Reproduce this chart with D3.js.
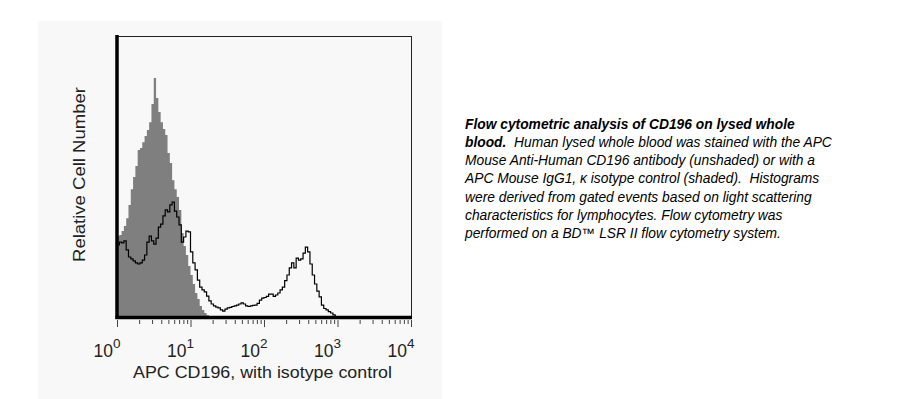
<!DOCTYPE html>
<html>
<head>
<meta charset="utf-8">
<script src="https://cdn.jsdelivr.net/npm/d3@7"></script>
<style>
  body { margin: 0; background: #fff; }
  svg { display: block; font-family: "Liberation Sans", Arial, sans-serif; }
  text { white-space: pre; }
</style>
</head>
<body>
<div id="chart"></div>
<script>
// histogram channels: 32 per decade, starting at 10^0
const channelsPerDecade = 32;

// isotype control (shaded), relative cell number per channel
const isotypeCounts = [
  28.9, 29.3, 30.7, 32.5, 35.3, 40.0, 45.6, 49.9, 53.8, 59.5,
  60.2, 62.3, 64.5, 66.6, 69.4, 75.8, 85.1, 78.0, 73.0, 69.4,
  67.0, 64.8, 58.4, 54.9, 48.8, 45.6, 42.8, 38.2, 30.0, 25.4,
  22.2, 18.3, 15.1, 11.9, 8.7, 6.6, 4.1, 2.7, 1.6, 0.9,
  0.5, 0.4, 0
];

// APC CD196 stained (unshaded)
const cd196Counts = [
  25.8, 26.8, 26.5, 27.2, 24.0, 21.5, 20.8, 20.1, 19.4, 19.0,
  19.4, 20.4, 22.2, 26.8, 28.9, 27.2, 26.1, 28.2, 32.1, 33.2,
  36.1, 38.2, 37.5, 40.0, 41.0, 37.8, 35.7, 32.9, 26.8, 28.6,
  30.7, 30.4, 23.3, 19.4, 16.9, 13.3, 10.8, 9.8, 9.1, 7.6,
  5.9, 4.8, 4.1, 3.7, 3.4, 2.7, 2.3, 3.0, 3.4, 3.6,
  3.9, 4.1, 4.4, 4.8, 5.2, 4.8, 4.1, 3.9, 4.1, 4.3,
  4.4, 5.0, 6.2, 6.9, 7.1, 7.5, 8.3, 8.3, 7.5, 8.0,
  8.7, 9.8, 10.8, 13.1, 15.1, 17.6, 19.4, 17.6, 21.1, 20.4,
  20.8, 22.9, 25.0, 23.3, 19.0, 15.1, 11.9, 9.4, 7.3, 4.4,
  3.2, 2.7, 2.1, 1.6, 0.9, 0
];

const decades = [1, 10, 100, 1000, 10000];
const decadeExponents = ["0", "1", "2", "3", "4"];

const xTitle = "APC CD196, with isotype control";
const yTitle = "Relative Cell Number";

const captionLines = [
  [{t: "Flow cytometric analysis of CD196 on lysed whole", b: true}],
  [{t: "blood.", b: true}, {t: "  Human lysed whole blood was stained with the APC", b: false}],
  [{t: "Mouse Anti-Human CD196 antibody (unshaded) or with a", b: false}],
  [{t: "APC Mouse IgG1, \u03ba isotype control (shaded).  Histograms", b: false}],
  [{t: "were derived from gated events based on light scattering", b: false}],
  [{t: "characteristics for lymphocytes. Flow cytometry was", b: false}],
  [{t: "performed on a BD\u2122 LSR II flow cytometry system.", b: false}]
];

const width = 923, height = 399;
const plot = {left: 117, right: 411, top: 36, bottom: 317.5};

const svg = d3.select("#chart").append("svg")
  .attr("width", width)
  .attr("height", height);

// light panel behind the figure
svg.append("rect")
  .attr("x", 38).attr("y", 21)
  .attr("width", 404).attr("height", height - 21)
  .attr("fill", "#f8f8f8");

const x = d3.scaleLog().domain([1, 10000]).range([plot.left, plot.right]);
const y = d3.scaleLinear().domain([0, 100]).range([plot.bottom, plot.top]);

// channel i covers 10^(i/32) .. 10^((i+1)/32)
function toSteps(counts) {
  const pts = counts.map((v, i) => ({lo: Math.pow(10, i / channelsPerDecade), v: v}));
  const last = counts.length;
  pts.push({lo: Math.pow(10, last / channelsPerDecade), v: 0});
  return pts;
}

// shaded isotype
const area = d3.area()
  .curve(d3.curveStepAfter)
  .x(d => x(d.lo))
  .y0(y(0))
  .y1(d => y(d.v));

svg.append("path")
  .datum(toSteps(isotypeCounts))
  .attr("d", area)
  .attr("fill", "#7f7f7f");

// unshaded outline
const line = d3.line()
  .curve(d3.curveStepAfter)
  .x(d => x(d.lo))
  .y(d => y(d.v));

svg.append("path")
  .datum(toSteps(cd196Counts))
  .attr("d", line)
  .attr("fill", "none")
  .attr("stroke", "#000")
  .attr("stroke-width", 1.2);

// frame: thin top/right, heavy left/bottom
svg.append("line")
  .attr("x1", plot.left).attr("x2", plot.right + 1)
  .attr("y1", plot.top + 0.5).attr("y2", plot.top + 0.5)
  .attr("stroke", "#222").attr("stroke-width", 1);
svg.append("line")
  .attr("x1", plot.right + 0.5).attr("x2", plot.right + 0.5)
  .attr("y1", plot.top).attr("y2", plot.bottom)
  .attr("stroke", "#222").attr("stroke-width", 1);
svg.append("line")
  .attr("x1", plot.left).attr("x2", plot.left)
  .attr("y1", plot.top - 1).attr("y2", plot.bottom + 1.5)
  .attr("stroke", "#000").attr("stroke-width", 3.5);
svg.append("line")
  .attr("x1", plot.left - 1.5).attr("x2", plot.right + 1)
  .attr("y1", plot.bottom).attr("y2", plot.bottom)
  .attr("stroke", "#000").attr("stroke-width", 3.5);

// log ticks
const minorTicks = [];
for (let k = 0; k < 4; k++) {
  for (let m = 2; m <= 9; m++) minorTicks.push(m * Math.pow(10, k));
}

const tickGroup = svg.append("g").attr("transform", "translate(0,320)");
tickGroup.append("g")
  .call(d3.axisBottom(x).tickValues(minorTicks).tickSize(4).tickFormat(""))
  .call(g => g.select(".domain").remove())
  .call(g => g.selectAll("line").attr("stroke", "#444"));
tickGroup.append("g")
  .call(d3.axisBottom(x).tickValues(decades).tickSize(7).tickFormat(""))
  .call(g => g.select(".domain").remove())
  .call(g => g.selectAll("line").attr("stroke", "#444"));

// decade labels 10^n
const labels = svg.append("g").attr("fill", "#222");
labels.selectAll("text.base")
  .data(decades)
  .join("text")
  .attr("class", "base")
  .attr("x", d => x(d) - 4)
  .attr("y", 357)
  .attr("text-anchor", "end")
  .attr("font-size", 17.5)
  .text("10");
labels.selectAll("text.exp")
  .data(decades)
  .join("text")
  .attr("class", "exp")
  .attr("x", d => x(d) - 4)
  .attr("y", 348)
  .attr("font-size", 13.5)
  .text((d, i) => decadeExponents[i]);

// axis titles
svg.append("text")
  .attr("x", 133)
  .attr("y", 378)
  .attr("font-size", 17)
  .attr("fill", "#222")
  .attr("textLength", 259)
  .attr("lengthAdjust", "spacingAndGlyphs")
  .text(xTitle);

svg.append("text")
  .attr("transform", "translate(85,262) rotate(-90)")
  .attr("font-size", 17)
  .attr("fill", "#222")
  .attr("textLength", 175)
  .attr("lengthAdjust", "spacingAndGlyphs")
  .text(yTitle);

// caption
const caption = svg.append("g")
  .attr("font-size", 13.8)
  .attr("font-style", "italic")
  .attr("fill", "#000");
captionLines.forEach((parts, i) => {
  const t = caption.append("text")
    .attr("x", 465)
    .attr("y", 128.5 + i * 18.3);
  parts.forEach(p => {
    t.append("tspan")
      .attr("font-weight", p.b ? "bold" : "normal")
      .text(p.t);
  });
});
</script>
</body>
</html>
